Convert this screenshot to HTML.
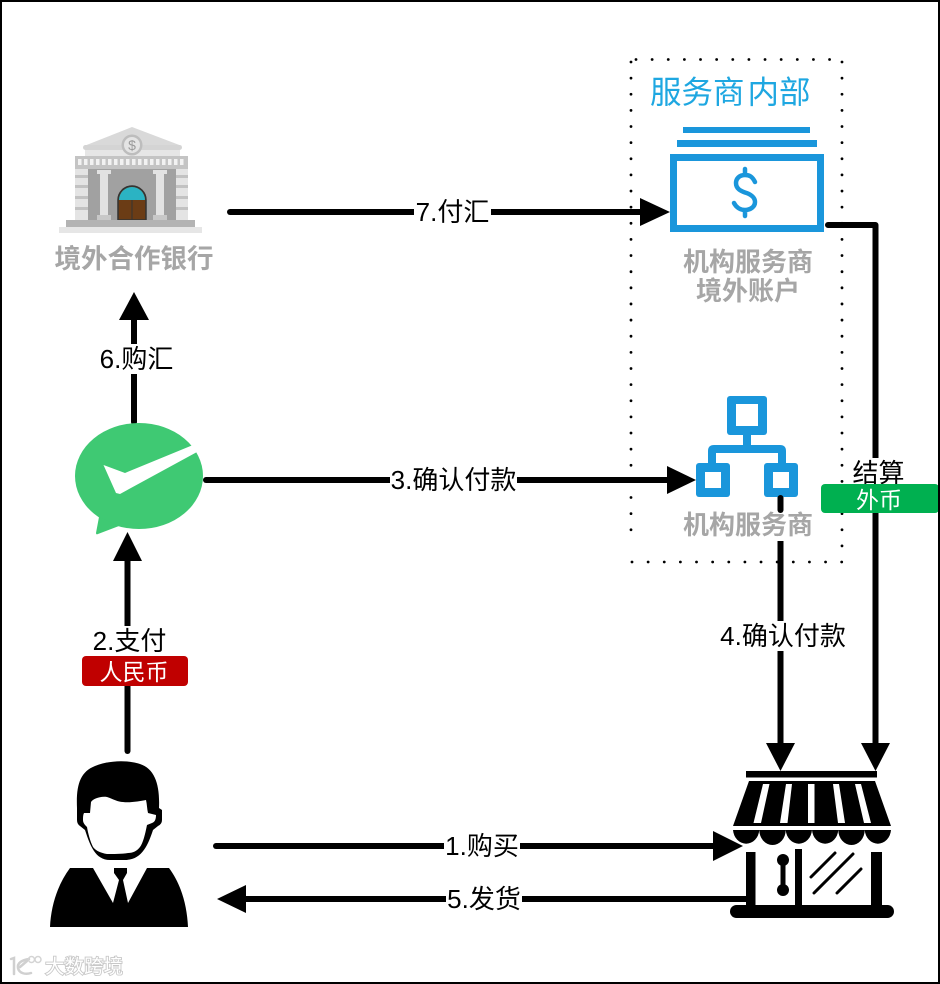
<!DOCTYPE html>
<html><head><meta charset="utf-8"><style>
html,body{margin:0;padding:0;background:#fff;width:940px;height:984px;overflow:hidden}
svg{display:block}
text{font-family:"Liberation Sans","Noto Sans CJK SC",sans-serif}
.l{font-size:26px;fill:#000;text-anchor:middle}
.b{font-size:26px;font-weight:bold;fill:#a6a6a6;text-anchor:middle}
.w{font-size:23px;fill:#fff;text-anchor:middle}
</style></head><body>
<svg width="940" height="984" viewBox="0 0 940 984" xmlns="http://www.w3.org/2000/svg">
<rect x="0" y="0" width="940" height="984" fill="#fff"/>
<!-- dotted group -->
<g fill="none" stroke="#000" stroke-width="2.800" stroke-linecap="round" stroke-dasharray="0 16.130">
<path d="M636 59.500H835"/>
<path d="M842 62V560"/>
<path d="M632 562H842"/>
<path d="M631 62V545"/>
</g>

<!-- connectors -->
<g stroke="#000" stroke-width="6" fill="none" stroke-linecap="round" stroke-linejoin="round">
<path d="M230 212H645"/>
<path d="M134 422V315"/>
<path d="M206 480H670"/>
<path d="M127.500 751V555"/>
<path d="M216 846H718"/>
<path d="M240 899H750"/>
<path d="M780.500 498V748"/>
<path d="M828 225H875.500V748"/>
</g>
<g fill="#000">
<polygon points="640,198 670,212 640,226"/>
<polygon points="119,320 149,320 134,292"/>
<polygon points="667,466 696,480 667,494"/>
<polygon points="113,561 142,561 127.500,532"/>
<polygon points="713,831 743,846 713,861"/>
<polygon points="246,885 246,913 217,899"/>
<polygon points="766,743 795,743 780.500,771"/>
<polygon points="861,743 890,743 875.500,771"/>
</g>

<!-- label backgrounds -->
<g fill="#fff">
<rect x="414" y="197" width="77" height="30"/>
<rect x="98" y="344" width="77" height="30"/>
<rect x="390" y="465" width="127" height="30"/>
<rect x="92" y="626" width="75" height="30"/>
<rect x="444" y="831" width="76" height="30"/>
<rect x="446" y="884" width="76" height="30"/>
<rect x="719" y="621" width="128" height="30"/>
<rect x="851" y="458" width="55" height="28"/>
<rect x="683" y="510" width="131" height="31"/>
</g>
<text class="l" x="452.500" y="221">7.付汇</text>
<text class="l" x="136.500" y="368">6.购汇</text>
<text class="l" x="453.500" y="489">3.确认付款</text>
<text class="l" x="129.500" y="650">2.支付</text>
<text class="l" x="482" y="855">1.购买</text>
<text class="l" x="484" y="908">5.发货</text>
<text class="l" x="783" y="645">4.确认付款</text>
<text class="l" x="878.500" y="482">结算</text>

<!-- badges -->
<rect x="82" y="656" width="106" height="30" rx="4" fill="#c00000"/>
<text class="w" x="134" y="680">人民币</text>
<rect x="821" y="484" width="118" height="29" rx="4" fill="#00b050"/>
<text class="w" x="879" y="508">外币</text>

<!-- bank -->
<polygon points="132,127 182,146 84,146" fill="#d9d9d9"/>
<rect x="83" y="145" width="99" height="5" rx="2.500" fill="#d4d4d4"/>
<rect x="85" y="150" width="95" height="6" fill="#e6e6e6"/>
<circle cx="132" cy="145" r="10.500" fill="#bdbdbd"/>
<circle cx="132" cy="145" r="8" fill="#e4e4e4"/>
<rect x="75" y="156" width="113" height="13" fill="#c4c4c4"/>
<path d="M78 162H185" stroke="#f2f2f2" stroke-width="6" stroke-dasharray="3.500 2.500"/>
<rect x="75" y="169" width="113" height="51" fill="#e4e4e4"/>
<g fill="#c2c2c2"><rect x="75" y="175" width="13" height="3"/><rect x="75" y="185" width="13" height="3"/><rect x="75" y="196" width="13" height="3"/><rect x="75" y="207" width="13" height="3"/><rect x="176" y="175" width="12" height="3"/><rect x="176" y="185" width="12" height="3"/><rect x="176" y="196" width="12" height="3"/><rect x="176" y="207" width="12" height="3"/></g>
<rect x="88" y="169" width="88" height="51" fill="#a1a1a1"/>
<g fill="#e2e2e2"><rect x="97" y="170" width="14" height="4"/><rect x="100" y="174" width="8" height="41"/><rect x="97" y="215" width="14" height="5" fill="#c8c8c8"/><rect x="153" y="170" width="14" height="4"/><rect x="156" y="174" width="8" height="41"/><rect x="153" y="215" width="14" height="5" fill="#c8c8c8"/></g>
<path d="M118 220V200A14 14 0 0 1 146 200V220Z" fill="#6b3c15" stroke="#333" stroke-width="1.500"/>
<path d="M119 200A13 13 0 0 1 145 200Z" fill="#2bb3c3"/>
<path d="M132 200V220" stroke="#333" stroke-width="1"/>
<rect x="66" y="220" width="129" height="7" fill="#b3b3b3"/>
<rect x="59" y="227" width="143" height="6" fill="#e6e6e6"/>
<text x="132" y="150" font-size="14" text-anchor="middle" fill="#9a9a9a">$</text>
<text class="b" x="134" y="268" style="font-size:26.500px">境外合作银行</text>

<!-- service provider -->
<text x="650" y="103" font-size="31.500" fill="#1ea7e1">服务商<tspan dx="3">内部</tspan></text>
<g fill="#1a96db">
<rect x="683" y="127" width="127" height="6"/>
<rect x="677" y="140" width="140" height="7"/>
</g>
<rect x="673.500" y="157.500" width="147" height="71" fill="#fff" stroke="#1a96db" stroke-width="7"/>
<path d="M755 182C752 176 749 175 745 175C739 175 736 179 736 183C736 189 741 191 745 192.500C750 194 755 197 755 202C755 207 750 210 745 210C740 210 736 207 734 203M745 169V175M745 210V216" fill="none" stroke="#1a96db" stroke-width="4.500" stroke-linecap="round"/>
<text class="b" x="748" y="271">机构服务商</text>
<text class="b" x="748" y="300">境外账户</text>

<!-- org chart -->
<g fill="#1a96db">
<rect x="727" y="396" width="40" height="39" rx="3"/>
<rect x="743" y="435" width="8" height="11"/>
<path d="M708 463V451Q708 445 714 445H780Q786 445 786 451V463H778V453H716V463Z"/>
<rect x="696" y="463" width="34" height="34" rx="3"/>
<rect x="764" y="463" width="34" height="34" rx="3"/>
</g>
<g fill="#fff">
<rect x="736" y="404" width="22" height="22"/>
<rect x="705" y="472" width="16" height="16"/>
<rect x="773" y="472" width="16" height="16"/>
</g>
<path d="M780.500 498V510" stroke="#000" stroke-width="6" stroke-linecap="round"/>
<text class="b" x="748" y="534">机构服务商</text>

<!-- wechat -->
<ellipse cx="139" cy="476" rx="64" ry="53" fill="#3fc973"/>
<path d="M99 517L96 533Q96 535 98 534L119 526Z" fill="#3fc973"/>
<polygon points="103.500,465 125,473 193,445 197,452 120,494 116,493" fill="#fff"/>

<!-- store -->
<rect x="746" y="771" width="131" height="6.500"/>
<polygon points="749,781 875,781 891,826 733,826" fill="#000"/>
<g fill="#fff">
<polygon points="763,784 769.500,784 761,823 753.500,823"/>
<polygon points="786,784 792,784 787.500,823 780,823"/>
<polygon points="808,784 814.500,784 814.500,823 808,823"/>
<polygon points="833,784 839,784 845,823 838,823"/>
<polygon points="855,784 861,784 871,823 864,823"/>
</g>
<path d="M733 830H759.300A13.200 15 0 0 1 733 830ZM759.300 830H785.700A13.200 15 0 0 1 759.300 830ZM785.700 830H812A13.200 15 0 0 1 785.700 830ZM812 830H838.300A13.200 15 0 0 1 812 830ZM838.300 830H864.700A13.200 15 0 0 1 838.300 830ZM864.700 830H891A13.200 15 0 0 1 864.700 830Z" fill="#000"/>
<rect x="746" y="852" width="9.500" height="54"/>
<rect x="795" y="849" width="7" height="57"/>
<rect x="871" y="852" width="11" height="54"/>
<rect x="730" y="905" width="164" height="13" rx="6.500"/>
<circle cx="783" cy="860" r="6"/><circle cx="783" cy="890" r="6"/>
<rect x="780.500" y="860" width="5" height="30"/>
<g stroke="#000" stroke-width="3" stroke-linecap="round">
<path d="M835 853L811 877M853 854L814 893M861 869L837 893"/>
</g>

<!-- person -->
<path d="M77 808C76 785 80 772 95 766C110 760 128 760 140 764C155 769 160 785 159 808L162 810V820Q162 824 158 826L153 830C148 845 142 860 125 860H110C95 860 90 845 85 830L80 826Q77 824 77 820Z" fill="#000"/>
<path d="M91 802C93 799 100 796 107 797C113 799 118 802 123 802C130 803 140 801 146 800C147 804 147 809 148 813L156 815C156 819 155 822 152 823L147 825C145 835 143 843 140 847C137 851 133 853 128 853C122 854 113 854 107 854C101 853 96 851 93 847C90 841 88 833 87 827C85 825 83 823 83 820C83 817 83 815 84 813L90 813Z" fill="#fff"/>
<path d="M50 927C51 905 58 884 70 868H93L113 903L119 880L114 873V868H127V873L123 880L128 903L147 868H169C181 884 187 905 188 927Z" fill="#000"/>

<!-- watermark -->
<g fill="none" stroke="#d0d0d0" stroke-width="2.500" stroke-linecap="round">
<path d="M11 959L14 958V974"/>
<path d="M29 959C22 960 17 963 18 968C19 973 25 975 31 973"/>
<path d="M20 967L27 961"/>
</g>
<g fill="none" stroke="#d4d4d4" stroke-width="1.500"><circle cx="31.500" cy="959.500" r="3"/><circle cx="38" cy="959.500" r="3"/></g>
<text x="45" y="973" font-size="19.500" fill="#fff" stroke="#c8c8c8" stroke-width="1.800" paint-order="stroke fill">大数跨境</text>

<!-- frame -->
<rect x="1" y="1" width="938" height="982" fill="none" stroke="#000" stroke-width="2"/>
</svg>
</body></html>
